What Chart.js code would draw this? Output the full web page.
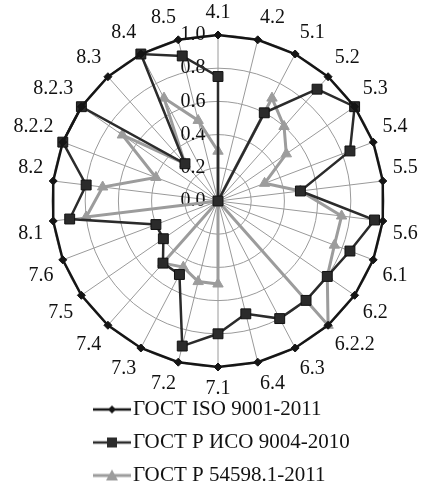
<!DOCTYPE html>
<html>
<head>
<meta charset="utf-8">
<script src="https://cdn.jsdelivr.net/npm/chart.js@4/dist/chart.umd.min.js"></script>
<style>
  html, body { margin: 0; padding: 0; background: #fff; }
  #wrap { width: 426px; height: 493px; }
</style>
</head>
<body>
<div id="wrap"><canvas id="radar"></canvas></div>
<script>
const categories = ['4.1', '4.2', '5.1', '5.2', '5.3', '5.4', '5.5', '5.6', '6.1', '6.2', '6.2.2', '6.3', '6.4',
  '7.1', '7.2', '7.3', '7.4', '7.5', '7.6', '8.1', '8.2', '8.2.2', '8.2.3', '8.3', '8.4', '8.5'];
const seriesNames = ['ГОСТ ISO 9001-2011', 'ГОСТ Р ИСО 9004-2010', 'ГОСТ Р 54598.1-2011'];

const iso9001 = [1, 1, 1, 1, 1, 1, 1, 1, 1, 1, 1, 1, 1, 1, 1, 1, 1, 1, 1, 1, 1, 1, 1, 1, 1, 1];
const iso9004 = [0.75, 0, 0.6, 0.9, 1, 0.85, 0.5, 0.95, 0.85, 0.8, 0.8, 0.8, 0.7,
  0.8, 0.9, 0.5, 0.5, 0.4, 0.4, 0.9, 0.8, 1, 1, 0.3, 1, 0.9];
const gost54598 = [0.3, 0, 0.7, 0.6, 0.5, 0.3, 0.5, 0.75, 0.75, 0.8, 1, 0, 0,
  0.5, 0.5, 0.45, 0.5, 0, 0, 0.8, 0.7, 0.4, 0.7, 0.3, 0.7, 0.5];

const tickValues = [0, 0.2, 0.4, 0.6, 0.8, 1.0];

const colors = ['#151515', '#2b2b2b', '#9c9c9c'];
const serif = "'Liberation Serif', 'Times New Roman', serif";

// legend icon: line with the marker in the middle (excel style)
function makeIcon(color, shape, lw) {
  const c = document.createElement('canvas');
  c.width = 38; c.height = 16;
  const g = c.getContext('2d');
  g.strokeStyle = color;
  g.fillStyle = color;
  g.lineWidth = lw;
  g.beginPath(); g.moveTo(0, 8); g.lineTo(38, 8); g.stroke();
  g.beginPath();
  if (shape === 'diamond') {
    g.moveTo(19, 4); g.lineTo(23, 8); g.lineTo(19, 12); g.lineTo(15, 8);
  } else if (shape === 'square') {
    g.rect(14, 3, 10, 10);
  } else {
    g.moveTo(19, 2); g.lineTo(25, 13); g.lineTo(13, 13);
  }
  g.closePath(); g.fill();
  return c;
}
const legendIcons = [
  makeIcon(colors[0], 'diamond', 2.5),
  makeIcon(colors[1], 'square', 2.5),
  makeIcon(colors[2], 'triangle', 3)
];

// put the legend rows where the original has them (left aligned, tucked under the chart)
const legendShift = {
  id: 'legendShift',
  afterLayout(chart) {
    chart.legend.left = 89.5;
    chart.legend.top = 387;
  }
};

new Chart(document.getElementById('radar'), {
  type: 'radar',
  data: {
    labels: categories,
    datasets: [
      {
        label: seriesNames[0], data: iso9001,
        borderColor: colors[0], backgroundColor: colors[0], borderWidth: 2.5,
        pointStyle: 'rectRot', pointRadius: 4, pointBorderWidth: 1, fill: false
      },
      {
        label: seriesNames[1], data: iso9004,
        borderColor: colors[1], backgroundColor: colors[1], borderWidth: 2.5,
        pointStyle: 'rect', pointRadius: 7, pointBorderWidth: 1, pointBorderColor: '#111', fill: false
      },
      {
        label: seriesNames[2], data: gost54598,
        borderColor: colors[2], backgroundColor: colors[2], borderWidth: 3,
        pointStyle: 'triangle', pointRadius: 6, pointBorderWidth: 1, fill: false
      }
    ]
  },
  options: {
    responsive: true,
    maintainAspectRatio: false,
    animation: false,
    layout: { padding: { top: 1, left: 6, right: 0, bottom: -17 } },
    elements: { line: { tension: 0 } },
    plugins: {
      tooltip: { enabled: false },
      legend: {
        position: 'bottom',
        align: 'start',
        labels: {
          color: '#111',
          font: { family: serif, size: 21 },
          padding: 12,
          usePointStyle: true,
          pointStyleWidth: 21,
          generateLabels(chart) {
            const items = Chart.defaults.plugins.legend.labels.generateLabels(chart);
            items.forEach(it => { it.pointStyle = legendIcons[it.datasetIndex]; });
            return items;
          }
        }
      }
    },
    scales: {
      r: {
        min: 0,
        max: 1,
        afterBuildTicks(axis) {
          // first tick is skipped by chart.js, repeat 0 so "0.0" shows
          axis.ticks = [0].concat(tickValues).map(v => ({ value: v }));
        },
        ticks: {
          color: '#111',
          font: { family: serif, size: 20, lineHeight: 1 },
          showLabelBackdrop: false,
          backdropPadding: 0,
          callback: v => v.toFixed(1) + '\u2003\u2003\u2002'
        },
        grid: { circular: true, color: '#9a9a9a', lineWidth: 1 },
        angleLines: { color: '#9a9a9a', lineWidth: 1 },
        pointLabels: {
          color: '#111',
          font: { family: serif, size: 20 },
          padding: 0
        }
      }
    }
  },
  plugins: [legendShift]
});
</script>
</body>
</html>
